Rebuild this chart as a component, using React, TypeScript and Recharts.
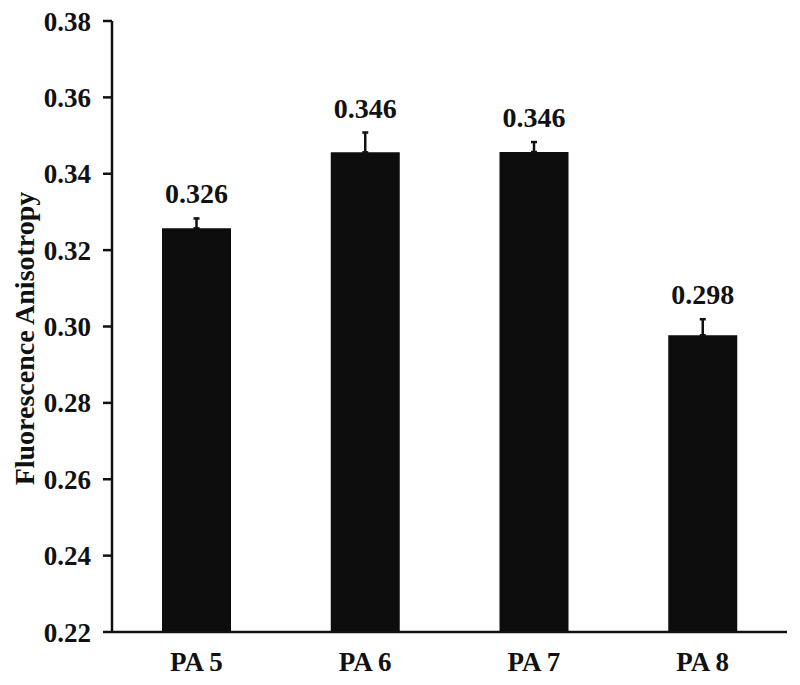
import { ComposedChart, Bar, Line, XAxis, YAxis, ErrorBar, LabelList } from 'recharts'

const categories = ['PA 5', 'PA 6', 'PA 7', 'PA 8']
const anisotropy = [0.3257, 0.3456, 0.3457, 0.2977]
const errUp = [0.0026, 0.0052, 0.0026, 0.0042]
const yTicks = [0.22, 0.24, 0.26, 0.28, 0.3, 0.32, 0.34, 0.36, 0.38]

const FONT = "'Liberation Serif', 'Times New Roman', serif"

const data = categories.map((name, i) => ({
  name,
  value: anisotropy[i],
  err: [0, errUp[i]],
  top: anisotropy[i] + errUp[i],
}))

export default function App() {
  return (
    <div style={{ position: 'absolute', left: 0, top: 0, background: '#fff' }}>
      <ComposedChart width={800} height={685} data={data} margin={{ top: 21, right: 13, left: 0, bottom: 0 }}>
        <XAxis
          dataKey="name"
          height={53}
          tickSize={0}
          tickMargin={20}
          tickLine={false}
          axisLine={{ stroke: '#111', strokeWidth: 2.5 }}
          tick={{ fill: '#111', fontSize: 27, fontWeight: 'bold', fontFamily: FONT }}
        />
        <YAxis
          width={112}
          domain={[0.22, 0.38]}
          ticks={yTicks}
          interval={0}
          tickSize={9}
          tickMargin={12}
          tickFormatter={(v: number) => v.toFixed(2)}
          axisLine={{ stroke: '#111', strokeWidth: 2.5 }}
          tickLine={{ stroke: '#111', strokeWidth: 2.5 }}
          tick={{ fill: '#111', fontSize: 27, fontWeight: 'bold', fontFamily: FONT }}
          label={{
            value: 'Fluorescence Anisotropy',
            angle: -90,
            position: 'center',
            dx: -32,
            dy: 12,
            style: { fill: '#111', fontSize: 28, fontWeight: 'bold', fontFamily: FONT, textAnchor: 'middle' },
          }}
        />
        <Bar dataKey="value" fill="#0d0d0d" barSize={69} isAnimationActive={false}>
          <ErrorBar dataKey="err" direction="y" width={3} stroke="#111" strokeWidth={2.5} />
        </Bar>
        <Line dataKey="top" stroke="none" dot={false} activeDot={false} legendType="none" isAnimationActive={false}>
          <LabelList
            dataKey="value"
            position="top"
            offset={15}
            formatter={(v: unknown) => Number(v).toFixed(3)}
            style={{ fill: '#111', fontSize: 28, fontWeight: 'bold', fontFamily: FONT }}
          />
        </Line>
      </ComposedChart>
    </div>
  )
}
